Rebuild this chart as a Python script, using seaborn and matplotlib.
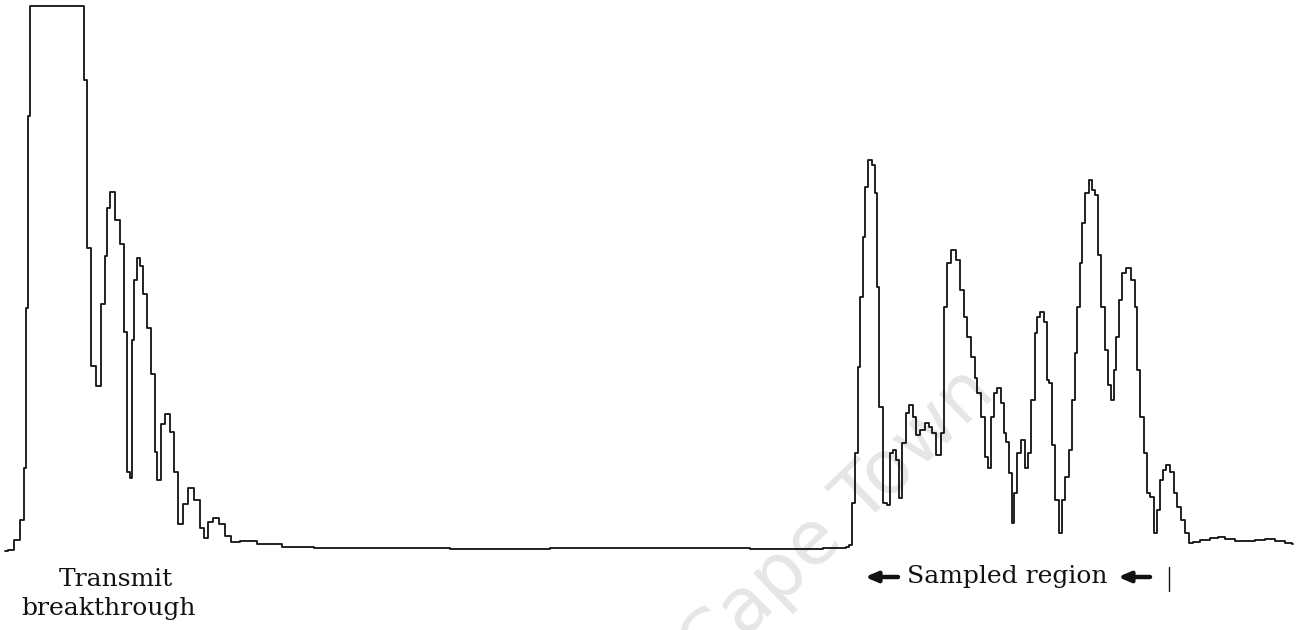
import numpy as np
import pandas as pd
import seaborn as sns
import matplotlib.pyplot as plt

# sample position along the trace and echo amplitude (arbitrary units)
left_pos = [5, 10, 18, 22, 25, 27, 29, 30, 83, 85, 88, 93, 98, 103, 106, 108, 112,
            117, 122, 126, 128, 131, 133, 135, 138, 142, 144, 149, 153, 156, 158,
            163, 167, 172, 176, 180, 185, 190, 198, 202, 205, 210, 216, 222, 228,
            233, 247, 267, 297]
left_amp = [-2, -1, 9, 29, 81, 241, 433, 543, 543, 469, 301, 183, 163, 245, 293, 341,
            357, 329, 305, 217, 77, 71, 209, 269, 291, 283, 255, 221, 175, 97, 69,
            125, 135, 117, 77, 25, 45, 61, 49, 21, 11, 27, 31, 25, 13, 7, 8, 5, 2]

mid_pos = [330, 400, 500, 600, 700, 800, 845]
mid_amp = [1, 1, 0, 1, 1, 0, 1]

right_pos = [847, 850, 853, 857, 858, 862, 863, 866, 870, 873, 876, 877, 881, 885,
             888, 892, 894, 897, 900, 904, 907, 911, 914, 918, 922, 927, 930, 934,
             938, 943, 945, 948, 953, 958, 962, 965, 969, 973, 976, 978, 983, 987,
             988, 993, 995, 999, 1003, 1004, 1007, 1010, 1013, 1015, 1018, 1023,
             1027, 1029, 1033, 1036, 1038, 1041, 1046, 1047, 1050, 1053, 1057, 1061,
             1063, 1067, 1070, 1073, 1076, 1078, 1081, 1083, 1087, 1090, 1093, 1096,
             1099, 1103, 1106, 1109, 1112, 1115, 1117, 1120, 1123, 1128, 1133, 1136,
             1138, 1142, 1145, 1148, 1152, 1155, 1158, 1161, 1164, 1168, 1172, 1175,
             1178, 1183, 1187, 1190, 1195, 1205, 1215, 1220, 1230, 1240, 1250, 1260,
             1270, 1280, 1290, 1293]
right_amp = [2, 4, 46, 96, 182, 252, 312, 362, 389, 384, 356, 262, 142, 46,
             44, 96, 99, 89, 51, 106, 136, 144, 132, 114, 119, 126, 122, 116,
             94, 116, 242, 286, 299, 289, 259, 232, 212, 192, 171, 156, 132, 92,
             81, 132, 156, 161, 146, 116, 107, 76, 26, 56, 96, 109,
             81, 96, 149, 216, 232, 237, 227, 169, 166, 104, 49, 16,
             49, 72, 99, 149, 196, 242, 286, 326, 356, 369, 359, 354,
             294, 242, 199, 164, 149, 179, 212, 249, 276, 281, 269, 242,
             179, 132, 96, 56, 52, 16, 39, 69, 79, 84, 77, 56,
             42, 29, 16, 6, 7, 9, 11, 12, 10, 8, 8, 9,
             10, 8, 6, 5]

trace = pd.DataFrame({
    "pos": left_pos + mid_pos + right_pos,
    "amp": left_amp + mid_amp + right_amp,
})

sns.set_style("white")
plt.rcParams['font.family'] = ['DejaVu Serif']

fig = plt.figure(figsize=(13.03, 6.3), dpi=100)
ax = fig.add_axes([0, 0, 1, 1])

# faint scan watermark
ax.text(997, 154, "Cape Town", rotation=44, rotation_mode="anchor",
        ha="right", va="baseline", fontsize=54, color="#e6e6e6",
        family="DejaVu Sans", zorder=0)

sns.lineplot(data=trace, x="pos", y="amp", ax=ax, color="#111111",
             linewidth=1.3, drawstyle="steps-mid", estimator=None, sort=False)

ax.text(116, -31, "Transmit", ha="center", va="center", fontsize=18, color="#111111")
ax.text(109, -60, "breakthrough", ha="center", va="center", fontsize=18, color="#111111")
ax.text(1007, -28, "Sampled region", ha="center", va="center", fontsize=18, color="#111111")

arrow = dict(arrowstyle="-|>,head_length=0.7,head_width=0.3", lw=3.2, color="#111111",
             shrinkA=0, shrinkB=0)
ax.annotate("", xy=(865, -28), xytext=(898, -28), arrowprops=arrow)
ax.annotate("", xy=(1118, -28), xytext=(1150, -28), arrowprops=arrow)
ax.plot([1169, 1169], [-18, -42], color="#111111", lw=1)

ax.set_xlim(0, 1303)
ax.set_ylim(-81, 549)
ax.axis("off")

fig.savefig("out.png", dpi=100, facecolor="white")
